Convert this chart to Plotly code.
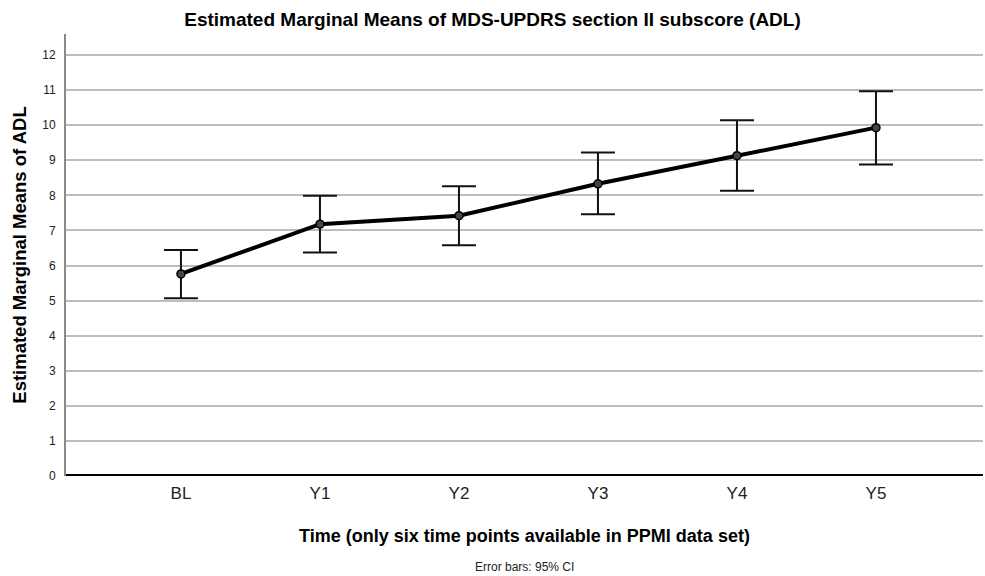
import plotly.graph_objects as go

categories = ["BL", "Y1", "Y2", "Y3", "Y4", "Y5"]
means = [5.76, 7.18, 7.42, 8.33, 9.13, 9.93]
upper = [6.44, 7.99, 8.26, 9.22, 10.14, 10.97]
lower = [5.07, 6.37, 6.58, 7.46, 8.13, 8.88]

x_idx = list(range(len(categories)))
err_plus = [u - m for u, m in zip(upper, means)]
err_minus = [m - l for m, l in zip(means, lower)]

FONT = "Liberation Sans, Arial, sans-serif"

fig = go.Figure()
fig.add_trace(go.Scatter(
    x=x_idx, y=means, mode="lines+markers",
    line=dict(color="black", width=4),
    marker=dict(size=8, color="#444444", line=dict(color="black", width=1.5)),
    error_y=dict(type="data", symmetric=False, array=err_plus, arrayminus=err_minus,
                 color="#111111", thickness=2, width=17),
    showlegend=False,
))

fig.update_layout(
    width=985, height=576,
    margin=dict(l=66, r=2, t=34, b=100),
    paper_bgcolor="white", plot_bgcolor="white",
    title=dict(text="<b>Estimated Marginal Means of MDS-UPDRS section II subscore (ADL)</b>",
               x=0.5, xanchor="center", y=1 - 19 / 576, yanchor="middle",
               font=dict(family=FONT, size=19, color="black")),
    font=dict(family=FONT, color="black"),
)

fig.update_xaxes(
    range=[-0.827, 5.77], tickvals=x_idx, ticktext=categories,
    showgrid=False, zeroline=False, showline=False,
    ticks="", tickfont=dict(size=17, color="#222222"), ticklabelstandoff=5,
    title=dict(text="<b>Time (only six time points available in PPMI data set)</b>",
               font=dict(size=18, color="black"), standoff=27),
)
fig.update_yaxes(
    range=[0, 12.6], tickvals=list(range(13)),
    showgrid=True, gridcolor="#bdbdbd", gridwidth=2,
    zeroline=False, showline=True, linecolor="#8a8a8a", linewidth=2,
    ticks="", tickfont=dict(size=12, color="#222222"), ticklabelstandoff=6,
    title=dict(text="<b>Estimated Marginal Means of ADL</b>",
               font=dict(size=18.5, color="black"), standoff=11),
)

# thick baseline at y = 0
fig.add_shape(type="line", xref="paper", yref="y", x0=0, x1=1, y0=0, y1=0,
              line=dict(color="black", width=4))

fig.add_annotation(text="Error bars: 95% CI", xref="paper", yref="paper",
                   x=0.5, y=-91 / 442, xanchor="center", yanchor="middle",
                   showarrow=False, font=dict(size=12, color="#222222"))

fig.write_html("out.html")
